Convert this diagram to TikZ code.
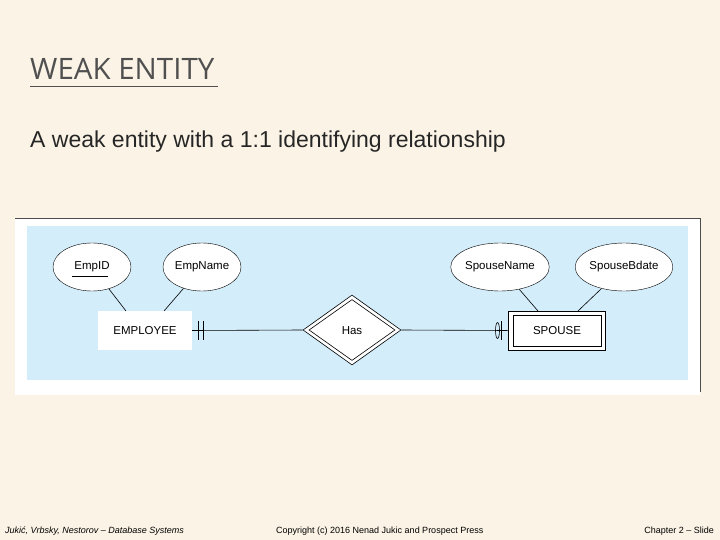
\documentclass[tikz,border=0pt]{standalone}
\usepackage{fontspec}
\setmainfont{Liberation Sans}
\newfontfamily\titlefont{Open Sans}
\usetikzlibrary{shapes.geometric}
\definecolor{bg}{HTML}{FBF4E6}
\definecolor{panel}{HTML}{D3EDFA}
\definecolor{ttl}{HTML}{505050}
\begin{document}
\begin{tikzpicture}[x=1pt,y=-1pt,
  attr/.style={draw,ellipse,fill=white,minimum width=78pt,minimum height=48pt,inner sep=0pt,font=\fontsize{11.5}{13}\selectfont},
  ent/.style={fill=white,minimum width=94pt,minimum height=39pt,inner sep=0pt,font=\fontsize{11.5}{13}\selectfont},
  ln/.style={draw,line width=0.6pt}]
\useasboundingbox (0,0) rectangle (720,540);
\fill[bg] (0,0) rectangle (720,540);
\node[anchor=base west,text=ttl,inner sep=0pt] (t) at (30,80) {\titlefont\fontsize{29.5}{32}\selectfont WEAK ENTITY};
\draw[ttl,line width=0.6pt] (30,86) -- (218,86);
\node[anchor=base west,inner sep=0pt,text=black!85] (s) at (30,148) {\fontsize{23}{26}\selectfont A weak entity with a 1:1 identifying relationship};
\fill[white] (15,218) rectangle (700,395);
\draw[black!70] (15,218) -- (700,218) -- (700,392);
\fill[panel] (27,226) rectangle (688,380);
\node[ent] (emp) at (145,330.5) {EMPLOYEE};
\node[ent,draw,line width=0.6pt,minimum width=97pt] (sp) at (556.5,330.5) {};
\node[draw,line width=0.6pt,minimum width=88pt,minimum height=31pt,inner sep=0pt,font=\fontsize{11.5}{13}\selectfont] (spi) at (557,330.5) {SPOUSE};
\node[diamond,draw,fill=white,line width=0.6pt,minimum width=98pt,minimum height=70pt,inner sep=0pt,aspect=1.4] (has) at (352,330) {};
\node[diamond,draw,line width=0.6pt,minimum width=86pt,minimum height=61pt,inner sep=0pt,aspect=1.4] (hasi) at (352,330) {};
\node[font=\fontsize{11.5}{13}\selectfont,inner sep=0pt] (hast) at (352,330.5) {Has};
\node[attr] (id) at (92,267) {EmpID};
\draw[line width=0.4pt] (72,276) -- (108,276);
\node[attr] (en) at (202,267) {EmpName};
\node[attr,minimum width=80pt] (sn) at (500,267) {SpouseName};
\node[attr,minimum width=80pt] (sb) at (624,267) {SpouseBdate};
\draw[ln] (id) -- (126,311);
\draw[ln] (en) -- (164,311);
\draw[ln] (sn) -- (538,311);
\draw[ln] (sb) -- (578,311);
\draw[ln] (emp.east) -- (has.west);
\draw[ln] (has.east) -- (sp.west);
\draw[ln] (198,321) -- (198,340);
\draw[ln] (203,321) -- (203,340);
\draw[ln] (501,321) -- (501,340);
\draw[ln] (497.5,330.5) ellipse (2pt and 8pt);
\node[anchor=base west,inner sep=0pt,font=\fontsize{9}{11}\selectfont\itshape] (f1) at (5,533) {Jukić, Vrbsky, Nestorov – Database Systems};
\node[anchor=base west,inner sep=0pt,font=\fontsize{9}{11}\selectfont] (f2) at (276,533) {Copyright (c) 2016 Nenad Jukic and Prospect Press};
\node[anchor=base east,inner sep=0pt,font=\fontsize{9}{11}\selectfont] (f3) at (714,533) {Chapter 2 – Slide};
\end{tikzpicture}
\end{document}
